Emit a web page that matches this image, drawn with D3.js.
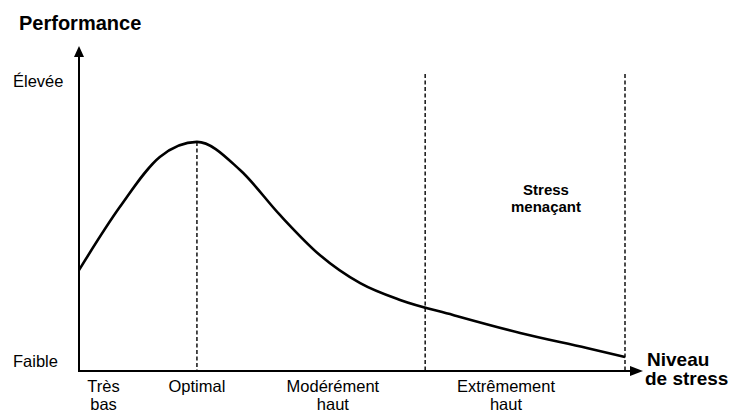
<!DOCTYPE html>
<html>
<head>
<meta charset="utf-8">
<script src="https://cdn.jsdelivr.net/npm/d3@7"></script>
<style>
  body { margin: 0; background: #fff; }
  text { font-family: Arial, "Liberation Sans", sans-serif; fill: #000; }
</style>
</head>
<body>
<script>
// stress level (0..10) vs performance (0 = Faible, 10 = Élevée)
const stress = [0, 0.75, 1.48, 2.16, 2.95, 3.68, 4.41, 5.15, 5.88, 6.85, 8.08, 9.30, 10];
const performance = [3.48, 5.66, 7.38, 7.90, 6.93, 5.38, 4.0, 3.03, 2.45, 1.93, 1.31, 0.79, 0.48];

const zoneLabels = [["Très", "bas"], ["Optimal"], ["Modérément", "haut"], ["Extrêmement", "haut"]];
const zonePos = [0.45, 2.16, 4.65, 7.82];
const yLabels = ["Faible", "Élevée"];
const yLabelPos = [0, 10];
const optimalX = 2.16;
const boundaries = [6.34, 10];

const width = 734, height = 415;
const margin = {top: 81, right: 109, bottom: 44, left: 79};

const x = d3.scaleLinear().domain([0, 10]).range([margin.left, width - margin.right]);
const y = d3.scaleLinear().domain([0, 10]).range([height - margin.bottom, margin.top]);

const svg = d3.select("body").append("svg")
    .attr("width", width)
    .attr("height", height);

// dashed guides
svg.append("line")
    .attr("x1", x(optimalX)).attr("x2", x(optimalX))
    .attr("y1", y(7.9)).attr("y2", y(0))
    .attr("stroke", "#000").attr("stroke-width", 1.4)
    .attr("stroke-dasharray", "4,2.5");

svg.selectAll(".bound")
    .data(boundaries)
    .enter()
    .append("line")
    .attr("x1", d => x(d)).attr("x2", d => x(d))
    .attr("y1", y(10.24)).attr("y2", y(0))
    .attr("stroke", "#000").attr("stroke-width", 1.4)
    .attr("stroke-dasharray", "4,2.5");

// axes with arrows
svg.append("line")
    .attr("x1", x(0)).attr("x2", x(0))
    .attr("y1", y(0) + 1).attr("y2", 54)
    .attr("stroke", "#000").attr("stroke-width", 2);
svg.append("path")
    .attr("d", `M${x(0)},46 L${x(0) - 5},57 L${x(0) + 5},57 Z`)
    .attr("fill", "#000");

svg.append("line")
    .attr("x1", x(0)).attr("x2", 633)
    .attr("y1", y(0)).attr("y2", y(0))
    .attr("stroke", "#000").attr("stroke-width", 2);
svg.append("path")
    .attr("d", `M643,${y(0)} L630,${y(0) - 5} L630,${y(0) + 5} Z`)
    .attr("fill", "#000");

// curve
const line = d3.line()
    .x((d, i) => x(stress[i]))
    .y(d => y(d))
    .curve(d3.curveMonotoneX);

svg.append("path")
    .datum(performance)
    .attr("d", line)
    .attr("fill", "none")
    .attr("stroke", "#000")
    .attr("stroke-width", 2.6);

// y labels
svg.selectAll(".ylab")
    .data(yLabels)
    .enter()
    .append("text")
    .attr("x", 13)
    .attr("y", (d, i) => y(yLabelPos[i]) - 4 + (i == 1 ? 10 : 0))
    .style("font-size", "16.5px")
    .text(d => d);

// zone labels
zoneLabels.forEach((lab, i) => {
    svg.append("text")
        .attr("x", x(zonePos[i]))
        .attr("y", 392)
        .attr("text-anchor", "middle")
        .style("font-size", "16.5px")
        .selectAll("tspan")
        .data(lab)
        .enter()
        .append("tspan")
        .attr("x", x(zonePos[i]))
        .attr("dy", (d, j) => j == 0 ? 0 : 18)
        .text(d => d);
});

// titles
svg.append("text")
    .attr("x", 19).attr("y", 30)
    .style("font-size", "20px").style("font-weight", "bold")
    .text("Performance");

svg.append("text")
    .attr("x", 647).attr("y", 366)
    .style("font-size", "19px").style("font-weight", "bold")
    .text("Niveau");
svg.append("text")
    .attr("x", 645).attr("y", 385)
    .style("font-size", "19px").style("font-weight", "bold")
    .text("de stress");

svg.append("text")
    .attr("x", 546).attr("y", 195)
    .attr("text-anchor", "middle")
    .style("font-size", "15px").style("font-weight", "bold")
    .selectAll("tspan")
    .data(["Stress", "menaçant"])
    .enter()
    .append("tspan")
    .attr("x", 546)
    .attr("dy", (d, j) => j == 0 ? 0 : 17)
    .text(d => d);
</script>
</body>
</html>
